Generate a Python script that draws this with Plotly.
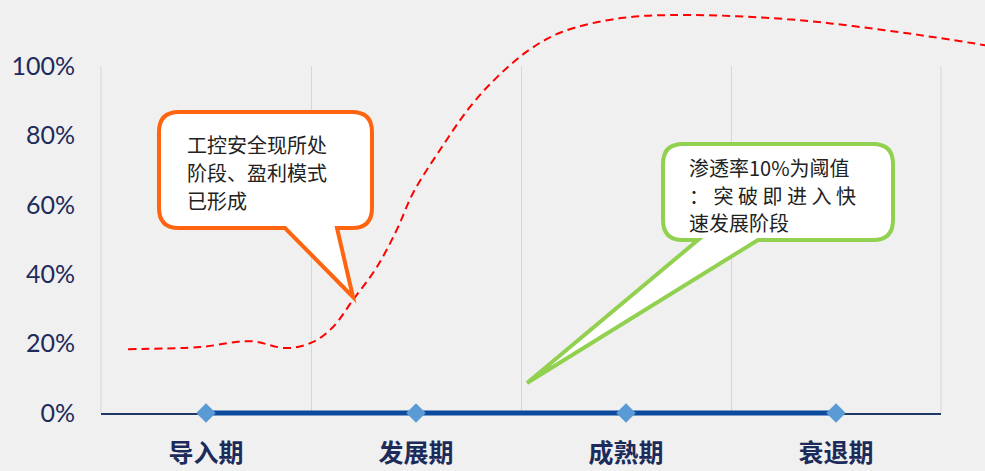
import plotly.graph_objects as go

# ---------------- data ----------------
categories = ["导入期", "发展期", "成熟期", "衰退期"]
stage_values = [0, 0, 0, 0]
y_tick_values = [0, 0.2, 0.4, 0.6, 0.8, 1.0]
y_tick_labels = ["0%", "20%", "40%", "60%", "80%", "100%"]

# adoption curve: position in category units, share value
curve_pos = [-0.371, -0.03, 0.21, 0.386, 0.51, 0.605, 0.70, 0.814, 0.91, 0.986,
             1.114, 1.257, 1.386, 1.538, 1.695, 1.976, 2.29, 2.767, 3.081, 3.4, 3.71]
curve_vals = [0.184, 0.190, 0.207, 0.187, 0.205, 0.248, 0.326, 0.421, 0.530, 0.634,
              0.758, 0.882, 0.968, 1.046, 1.098, 1.138, 1.147, 1.135, 1.115, 1.089, 1.06]

note_orange_lines = ["工控安全现所处", "阶段、盈利模式", "已形成"]
note_green_lines = ["渗透率10%为阈值", "： 突 破 即 进 入 快", "速发展阶段"]

# ---------------- geometry (pixels) ----------------
W, H = 985, 471
PLOT_L, PLOT_R = 101, 941
Y0_PX, Y100_PX = 413, 66
n = len(categories)
cat_px = (PLOT_R - PLOT_L) / n
val_px = (Y0_PX - Y100_PX)


def cat_at(px):
    return (px - PLOT_L) / cat_px - 0.5


def px2paper(px, py):
    return px / W, 1 - py / H


def callout_path(L, T, R, B, r, b1, b2, tip):
    def P(x, y):
        xx, yy = px2paper(x, y)
        return f"{xx:.5f},{yy:.5f}"

    d = f"M {P(L + r, T)} L {P(R - r, T)} Q {P(R, T)} {P(R, T + r)} "
    d += f"L {P(R, B - r)} Q {P(R, B)} {P(R - r, B)} "
    d += f"L {P(b2, B)} L {P(tip[0], tip[1])} L {P(b1, B)} "
    d += f"L {P(L + r, B)} Q {P(L, B)} {P(L, B - r)} "
    d += f"L {P(L, T + r)} Q {P(L, T)} {P(L + r, T)} Z"
    return d


NAVY = "#1c2b5a"
BG = "#f0f0f0"
GRID = "#d6d6d6"

fig = go.Figure()

# invisible trace establishing the category axis
fig.add_trace(go.Scatter(x=categories, y=stage_values, mode="markers",
                         marker=dict(opacity=0), hoverinfo="skip",
                         showlegend=False, xaxis="x", yaxis="y"))

# adoption curve (overlay axes, spans beyond plot frame)
fig.add_trace(go.Scatter(x=curve_pos, y=curve_vals, mode="lines",
                         line=dict(color="#ff0000", width=2, dash="8px,5px",
                                   shape="spline", smoothing=1.0),
                         hoverinfo="skip", showlegend=False,
                         xaxis="x2", yaxis="y2"))

# stage baseline with diamonds
fig.add_trace(go.Scatter(x=list(range(n)), y=stage_values, mode="lines+markers",
                         line=dict(color="#0b4a9c", width=5),
                         marker=dict(symbol="diamond", size=15, color="#5b9bd5",
                                     line=dict(width=0)),
                         hoverinfo="skip", showlegend=False,
                         xaxis="x2", yaxis="y2"))

shapes = [
    # frame edge grid lines (plotly omits grid lines on the domain edges)
    dict(type="line", xref="x domain", yref="y domain", x0=0, x1=0, y0=0, y1=1,
         line=dict(color=GRID, width=1), layer="below"),
    dict(type="line", xref="x domain", yref="y domain", x0=1, x1=1, y0=0, y1=1,
         line=dict(color=GRID, width=1), layer="below"),
    dict(type="path", xref="paper", yref="paper",
         path=callout_path(159, 112, 372, 228, 20, 285, 337, (353, 297)),
         fillcolor="white", line=dict(color="#ff6410", width=4)),
    dict(type="path", xref="paper", yref="paper",
         path=callout_path(663, 144, 893, 240, 20, 698, 758, (527, 383)),
         fillcolor="white", line=dict(color="#92d050", width=4)),
]

annotations = []
for lines, left, ys in [(note_orange_lines, 186, [145, 173, 200]),
                        (note_green_lines, 688, [168, 195, 222])]:
    for txt, py in zip(lines, ys):
        ax, ay = px2paper(left, py)
        annotations.append(dict(
            xref="paper", yref="paper", x=ax, y=ay, xanchor="left", yanchor="middle",
            text=txt, showarrow=False, align="left", borderpad=0,
            font=dict(family="Noto Sans CJK SC", size=20, color="#222222")))

fig.update_layout(
    width=W, height=H,
    margin=dict(l=0, r=0, t=0, b=0),
    paper_bgcolor=BG,
    plot_bgcolor="rgba(0,0,0,0)",
    showlegend=False,
    xaxis=dict(domain=[PLOT_L / W, PLOT_R / W], anchor="y", type="category",
               categoryorder="array", categoryarray=categories,
               range=[-0.5, n - 0.5], tickson="boundaries",
               showgrid=True, gridcolor=GRID, gridwidth=1,
               showline=True, linecolor="#1f3864", linewidth=2,
               ticks="", ticklabelstandoff=17, automargin=False,
               tickfont=dict(family="Noto Sans CJK SC", size=25, color=NAVY,
                             weight="bold"),
               fixedrange=True),
    yaxis=dict(domain=[1 - Y0_PX / H, 1 - Y100_PX / H], anchor="x",
               range=[0, 1], tickvals=y_tick_values, ticktext=y_tick_labels,
               showgrid=False, zeroline=False, showline=False, ticks="",
               ticklabelstandoff=25, automargin=False,
               tickfont=dict(family="Lato", size=25, color=NAVY),
               fixedrange=True),
    xaxis2=dict(domain=[0, 1], anchor="y2", range=[cat_at(0), cat_at(W)],
                visible=False, fixedrange=True),
    yaxis2=dict(domain=[0, 1], anchor="x2",
                range=[(Y0_PX - H) / val_px, Y0_PX / val_px],
                visible=False, fixedrange=True),
    shapes=shapes,
    annotations=annotations,
)

fig.write_html(
    "out.html",
    config={"displayModeBar": False},
    post_script=f"document.body.style.margin='0';document.body.style.background='{BG}';",
)
